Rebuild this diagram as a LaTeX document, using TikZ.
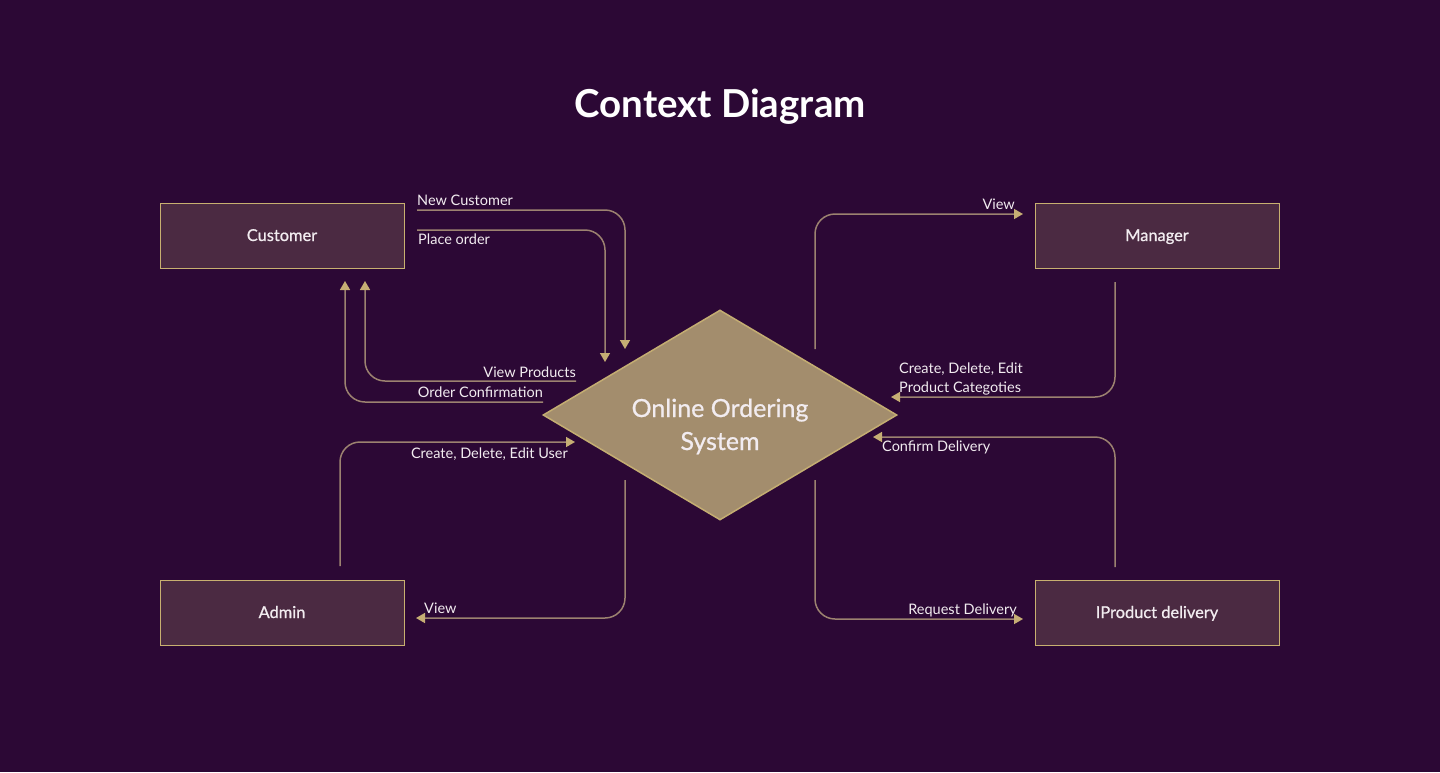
\documentclass[tikz,border=0pt]{standalone}
\usepackage{fontspec}
\setmainfont{Lato}
\newfontfamily\medfont{Lato}[FakeBold=0.8]
\usetikzlibrary{arrows.meta,shapes.geometric}
\definecolor{bg}{HTML}{2C0835}
\definecolor{boxfill}{HTML}{4B2A42}
\definecolor{boxline}{HTML}{C8B070}
\definecolor{dia}{HTML}{A38D6D}
\definecolor{dialine}{HTML}{C4AD72}
\definecolor{flowcol}{HTML}{9C8270}
\definecolor{tipcol}{HTML}{C6AE74}
\definecolor{txt}{HTML}{F2ECF0}
\tikzset{
  entity/.style={draw=boxline, fill=boxfill, line width=1pt, minimum width=244pt,
    minimum height=65pt, inner sep=0pt, text=txt, text height=11pt, text depth=0pt,
    font=\medfont\fontsize{16.4}{19}\selectfont},
  sysbox/.style={diamond, draw=dialine, fill=dia, line width=1.5pt, minimum width=354pt,
    minimum height=210pt, inner sep=0pt},
  systext/.style={text=txt, align=center, inner sep=0pt, font=\medfont\fontsize{25}{33}\selectfont},
  flow/.style={draw=flowcol, line width=1.5pt, rounded corners=20pt,
    -{Triangle[length=9pt,width=10pt,color=tipcol]}},
  lbl/.style={text=txt, inner sep=0pt, font=\fontsize{14.5}{19}\selectfont},
  ttl/.style={text=white, inner sep=0pt, font=\fontsize{38.5}{42}\selectfont\bfseries}
}
\begin{document}
\begin{tikzpicture}[x=1pt,y=-1pt]
\fill[bg] (0,0) rectangle (1440,772);
\useasboundingbox (0,0) rectangle (1440,772);

\node[ttl, anchor=base] (title) at (720,117) {Context Diagram};

\node[entity] (cust) at (282,235.5) {Customer};
\node[entity] (mgr) at (1157,235.5) {Manager};
\node[entity] (adm) at (282,612.5) {Admin};
\node[entity] (deliv) at (1157,612.5) {IProduct delivery};

\node[sysbox] (sys) at (720,415) {};
\node[systext, anchor=base] (systxt) at (720,450) {Online Ordering\\System};

% Customer flows
\coordinate (nc-s) at (417,210);
\coordinate (nc-e) at (625,349);
\draw[flow] (nc-s) -| (nc-e);
\node[lbl, anchor=base west] (nc-l) at (417,205) {New Customer};

\coordinate (po-s) at (417,230);
\coordinate (po-e) at (605,362);
\draw[flow] (po-s) -| (po-e);
\node[lbl, anchor=base west] (po-l) at (418,244) {Place order};

\coordinate (vp-s) at (576,381);
\coordinate (vp-e) at (365,281);
\draw[flow] (vp-s) -| (vp-e);
\node[lbl, anchor=base east] (vp-l) at (576,377) {View Products};

\coordinate (oc-s) at (543,402);
\coordinate (oc-e) at (345,281);
\draw[flow] (oc-s) -| (oc-e);
\node[lbl, anchor=base east] (oc-l) at (543,397) {Order Confirmation};

% Manager flows
\coordinate (mv-s) at (815,349);
\coordinate (mv-e) at (1023,214);
\draw[flow] (mv-s) |- (mv-e);
\node[lbl, anchor=base east] (mv-l) at (1015,209) {View};

\coordinate (pc-s) at (1115,282);
\coordinate (pc-e) at (891,397);
\draw[flow] (pc-s) |- (pc-e);
\node[lbl, anchor=base west] (pc-l1) at (899,373) {Create, Delete, Edit};
\node[lbl, anchor=base west] (pc-l2) at (899,392) {Product Categoties};

% Admin flows
\coordinate (au-s) at (340,566);
\coordinate (au-e) at (575,442);
\draw[flow] (au-s) |- (au-e);
\node[lbl, anchor=base east] (au-l) at (568,458) {Create, Delete, Edit User};

\coordinate (av-s) at (625,480);
\coordinate (av-e) at (416,618);
\draw[flow] (av-s) |- (av-e);
\node[lbl, anchor=base west] (av-l) at (424,613) {View};

% Delivery flows
\coordinate (cd-s) at (1115,567);
\coordinate (cd-e) at (873,437);
\draw[flow] (cd-s) |- (cd-e);
\node[lbl, anchor=base west] (cd-l) at (882,451) {Confirm Delivery};

\coordinate (rd-s) at (815,480);
\coordinate (rd-e) at (1023,619);
\draw[flow] (rd-s) |- (rd-e);
\node[lbl, anchor=base east] (rd-l) at (1017,614) {Request Delivery};
\end{tikzpicture}
\end{document}
